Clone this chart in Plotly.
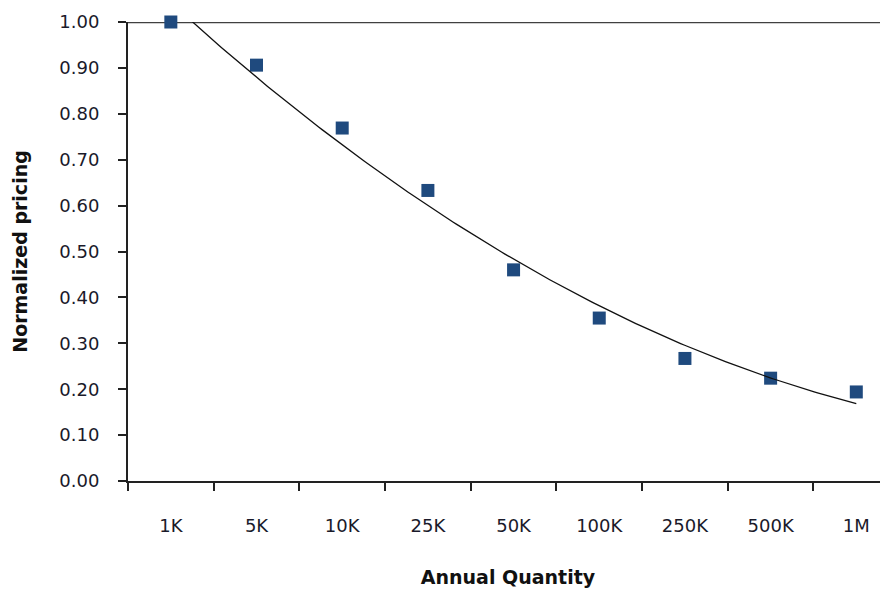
import numpy as np
import plotly.graph_objects as go

categories = ["1K", "5K", "10K", "25K", "50K", "100K", "250K", "500K", "1M"]
pricing = [1.00, 0.906, 0.769, 0.633, 0.460, 0.355, 0.267, 0.224, 0.194]

# Excel-style 2nd order polynomial trendline, fitted on category index 1..n
idx = np.arange(1, len(categories) + 1)
coef = np.polyfit(idx, pricing, 2)
xs = np.linspace(1, len(categories), 200)
trend = np.polyval(coef, xs)
xs_pos = xs - 1  # category position (0-based)

fig = go.Figure()
fig.add_trace(go.Scatter(x=xs_pos, y=trend, mode="lines",
                         line=dict(color="#111111", width=1.3),
                         xaxis="x2", showlegend=False, hoverinfo="skip"))
fig.add_trace(go.Scatter(x=categories, y=pricing, mode="markers",
                         marker=dict(symbol="square", size=13, color="#1F4A7E",
                                     line=dict(width=0)),
                         cliponaxis=False, showlegend=False))

fnt = "Tahoma, 'DejaVu Sans', sans-serif"
xrange_ = [-0.5, 8.37]
fig.update_layout(
    width=888, height=589,
    margin=dict(l=120, r=8, t=14, b=116),
    plot_bgcolor="white", paper_bgcolor="white",
    font=dict(family=fnt, size=18, color="#1a1a2a"),
    xaxis=dict(type="category", range=xrange_, tickson="boundaries",
               automargin=False,
               ticks="outside", ticklen=8, tickwidth=2, tickcolor="#222222",
               showline=True, linecolor="#222222", linewidth=2,
               showgrid=False, zeroline=False,
               ticklabelstandoff=27,
               title=dict(text="<b>Annual Quantity</b>", standoff=36,
                          font=dict(size=19, color="#111111"))),
    xaxis2=dict(overlaying="x", range=xrange_, visible=False),
    yaxis=dict(range=[0, 1.0], dtick=0.1, tickformat=".2f",
               automargin=False,
               ticks="outside", ticklen=8, tickwidth=2, tickcolor="#222222",
               showline=True, linecolor="#222222", linewidth=2,
               showgrid=False, zeroline=False,
               ticklabelstandoff=15,
               title=dict(text="<b>Normalized pricing</b>", standoff=27,
                          font=dict(size=19, color="#111111"))),
    shapes=[dict(type="line", xref="paper", yref="y", x0=0, x1=1, y0=1.0, y1=1.0,
                 line=dict(color="#404040", width=2.5), layer="below")],
)
fig.write_html("out.html")
